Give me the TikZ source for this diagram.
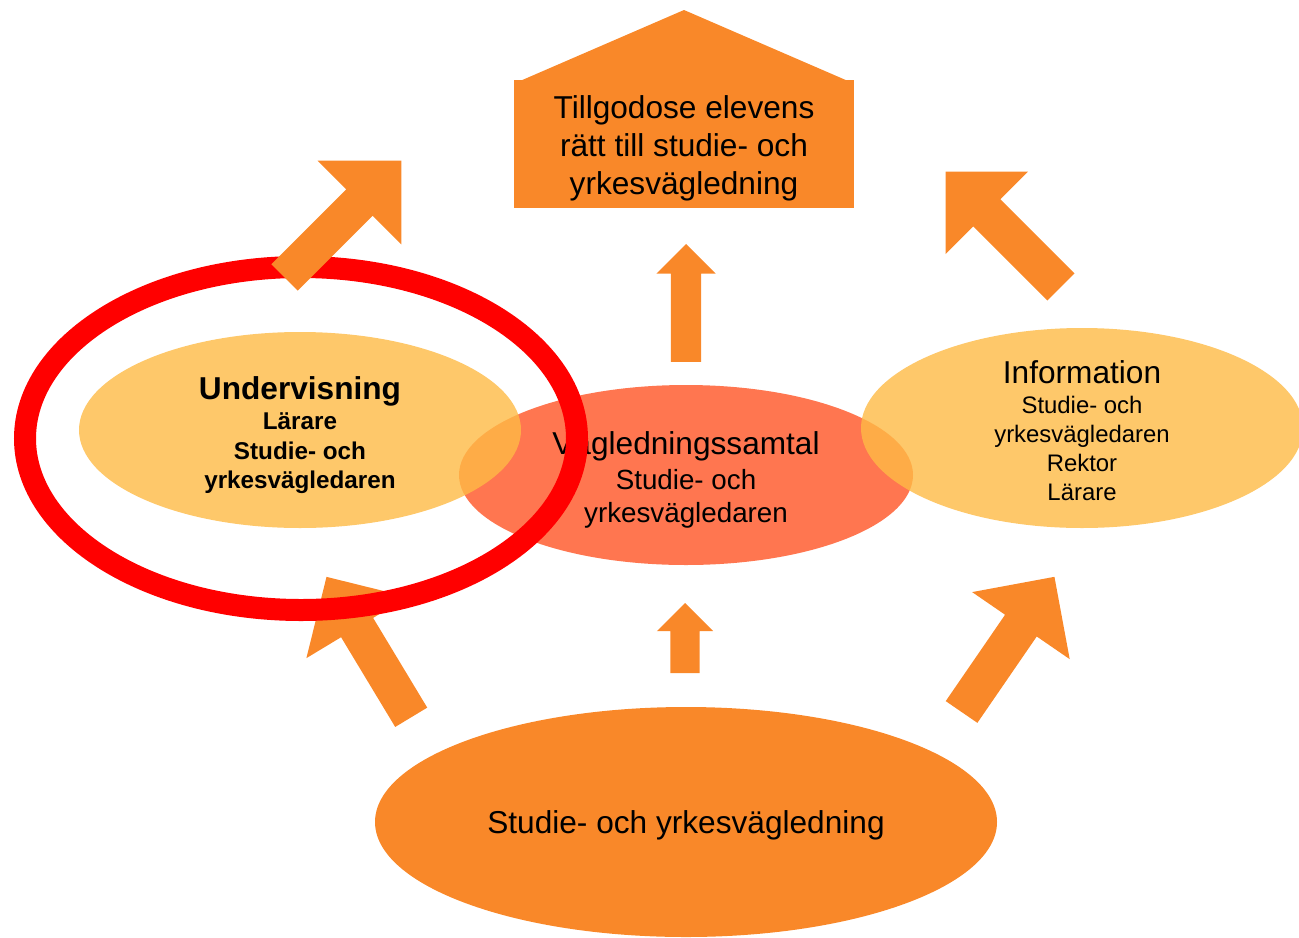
\documentclass[tikz,border=0pt]{standalone}
\usepackage{fontspec}
\setmainfont{Liberation Sans}
\usetikzlibrary{shapes.geometric,shapes.arrows}

\definecolor{vgorange}{RGB}{249,136,41}
\definecolor{vglight}{RGB}{254,186,69}
\definecolor{vgcoral}{RGB}{255,118,80}

\begin{document}
\begin{tikzpicture}[
  blockarrow/.style={single arrow,fill=vgorange,inner xsep=0pt,single arrow tip angle=90,anchor=tip},
  lightell/.style={ellipse,fill=vglight,fill opacity=0.8,inner sep=0pt},
  vgtext/.style={align=center,inner sep=0pt},
  bigtext/.style={font=\fontsize{9}{10.8}\selectfont}]
\useasboundingbox (0,0) rectangle (12.99,9.37);
\clip (0,0) rectangle (12.99,9.37);

% goal
\node[fill=vgorange,minimum width=3.40cm,minimum height=1.28cm,inner sep=0pt] at (6.84,7.93) (goal) {};
\coordinate (apex) at (6.84,9.27);
\fill[vgorange] ([xshift=0.06cm,yshift=-0.02cm]goal.north west) -- (apex) -- ([xshift=-0.06cm,yshift=-0.02cm]goal.north east) -- cycle;
\node[vgtext,bigtext] at ([yshift=-0.04cm]goal.center) (goaltext) {Tillgodose elevens\\rätt till studie- och\\yrkesvägledning};

% arrows (placed at their tips)
\node[blockarrow,minimum height=1.18cm,minimum width=0.58cm,inner ysep=0.145cm,single arrow head extend=0.145cm,rotate=90] at (6.86,6.94) (uptop) {};
\node[blockarrow,minimum height=0.70cm,minimum width=0.55cm,inner ysep=0.14cm,single arrow head extend=0.135cm,rotate=90] at (6.85,3.35) (upbot) {};
\node[blockarrow,minimum height=1.63cm,minimum width=1.15cm,inner ysep=0.185cm,single arrow head extend=0.39cm,rotate=135] at (9.45,7.66) (upright) {};
\node[blockarrow,minimum height=1.64cm,minimum width=1.17cm,inner ysep=0.185cm,single arrow head extend=0.40cm,rotate=55.5] at (10.55,3.61) (lowright) {};
\node[blockarrow,minimum height=1.64cm,minimum width=1.17cm,inner ysep=0.18cm,single arrow head extend=0.405cm,rotate=121.1] at (3.26,3.61) (lowleft) {};

% ellipses
\node[ellipse,fill=vgcoral,minimum width=4.54cm,minimum height=1.80cm,inner sep=0pt] at (6.86,4.62) (samtal) {};
\node[vgtext,font=\fontsize{7.9}{9.4}\selectfont] at ([yshift=-0.05cm]samtal.center) (samtaltext) {{\fontsize{9}{9.4}\selectfont Vägledningssamtal}\\[0.55pt]Studie- och\\yrkesvägledaren};
\node[lightell,minimum width=4.42cm,minimum height=1.96cm] at (3.00,5.07) (undervisning) {};
\node[vgtext,font=\fontsize{6.9}{8.5}\selectfont\bfseries] at ([yshift=-0.055cm]undervisning.center) (undervisningtext) {{\fontsize{9}{9}\selectfont Undervisning}\\[-0.15pt]Lärare\\Studie- och\\yrkesvägledaren};
\node[lightell,minimum width=4.42cm,minimum height=2.00cm] at (10.82,5.09) (info) {};
\node[vgtext,font=\fontsize{6.8}{8.25}\selectfont] at ([yshift=-0.03cm]info.center) (infotext) {{\fontsize{9}{9}\selectfont Information}\\[0.3pt]Studie- och\\yrkesvägledaren\\Rektor\\Lärare};
\node[ellipse,fill=vgorange,minimum width=6.22cm,minimum height=2.30cm,inner sep=0pt] at (6.86,1.15) (sov) {};
\node[vgtext,bigtext] at ([yshift=-0.03cm]sov.center) (sovtext) {Studie- och yrkesvägledning};

% ring
\node[ellipse,draw=red,line width=0.22cm,minimum width=5.52cm,minimum height=3.43cm,inner sep=0pt] at (3.01,4.985) (ring) {};

\node[blockarrow,minimum height=1.65cm,minimum width=1.17cm,inner ysep=0.18cm,single arrow head extend=0.405cm,rotate=45] at (4.02,7.77) (upleft) {};
\end{tikzpicture}
\end{document}
